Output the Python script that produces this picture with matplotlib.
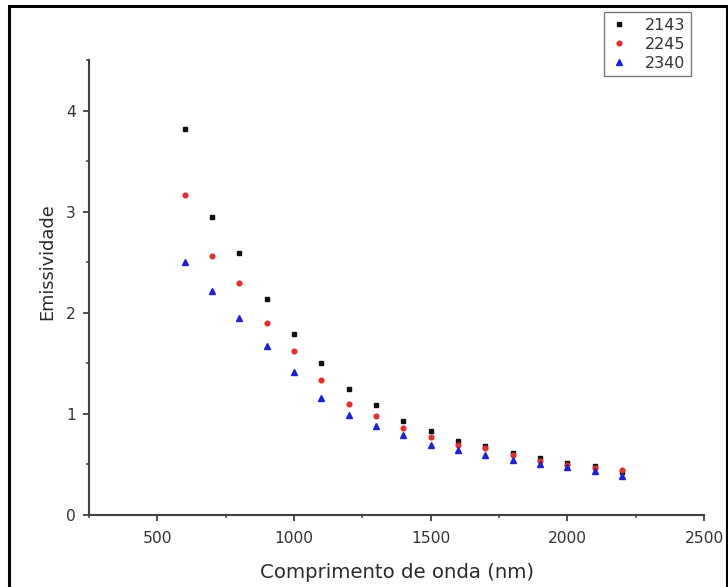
import matplotlib
matplotlib.use("Agg")
import matplotlib.pyplot as plt
from matplotlib.patches import Rectangle
from matplotlib.ticker import MultipleLocator

wavelength = [600, 700, 800, 900, 1000, 1100, 1200, 1300, 1400, 1500, 1600, 1700, 1800, 1900, 2000, 2100, 2200]
s2143 = [3.82, 2.95, 2.59, 2.14, 1.79, 1.50, 1.25, 1.09, 0.93, 0.83, 0.73, 0.68, 0.61, 0.56, 0.51, 0.48, 0.43]
s2245 = [3.16, 2.56, 2.29, 1.90, 1.62, 1.34, 1.10, 0.98, 0.86, 0.77, 0.69, 0.66, 0.59, 0.53, 0.49, 0.46, 0.45]
s2340 = [2.50, 2.22, 1.95, 1.67, 1.41, 1.16, 0.99, 0.88, 0.79, 0.69, 0.64, 0.59, 0.54, 0.50, 0.47, 0.44, 0.39]
labels = ["2143", "2245", "2340"]
x_ticks = [500, 1000, 1500, 2000, 2500]
y_ticks = [0, 1, 2, 3, 4]

plt.rcParams['font.family'] = ['DejaVu Sans']

W, H = 728, 587
fig = plt.figure(figsize=(W/100, H/100), dpi=100)
ax = fig.add_axes([89/W, 1-515/H, (704-89)/W, (515-60)/H])

ax.plot(wavelength, s2143, linestyle='none', marker='s', ms=3.2, color='#111111', label=labels[0])
ax.plot(wavelength, s2245, linestyle='none', marker='o', ms=3.4, color='#e03030', label=labels[1])
ax.plot(wavelength, s2340, linestyle='none', marker='^', ms=3.8, color='#2020d0', label=labels[2])

ax.set_xlim(250, 2500)
ax.set_ylim(0, 4.5)
ax.set_xticks(x_ticks)
ax.set_yticks(y_ticks)
ax.xaxis.set_minor_locator(MultipleLocator(250))
ax.yaxis.set_minor_locator(MultipleLocator(0.5))

for s in ['top', 'right']:
    ax.spines[s].set_visible(False)
for s in ['left', 'bottom']:
    ax.spines[s].set_linewidth(1.5)
    ax.spines[s].set_color('#404040')

ax.tick_params(which='major', direction='out', length=4.5, width=1.3, color='#404040',
               labelsize=11.2, labelcolor='#333333')
ax.tick_params(axis='x', which='major', pad=7)
ax.tick_params(axis='y', which='major', pad=5)
ax.tick_params(which='minor', direction='out', length=2.5, width=1.1, color='#404040')

ax.set_xlabel("Comprimento de onda (nm)", fontsize=14.2, color='#2a2a2a')
ax.xaxis.label.set_va('baseline')
ax.xaxis.set_label_coords((397-89)/615, (515-578)/455)
ax.set_ylabel("Emissividade", fontsize=12.8, color='#2a2a2a')
ax.yaxis.set_label_coords((56-89)/615, (515-262)/455)

leg = fig.legend(loc='upper right', bbox_to_anchor=(691/W, 1-12/H), fontsize=11.5,
                 frameon=True, fancybox=False, edgecolor='#555555', handlelength=1.2,
                 handletextpad=1.0, borderpad=0.35, labelspacing=0.25, markerscale=1.0,
                 borderaxespad=0)
leg.get_frame().set_linewidth(1.0)
for t in leg.get_texts():
    t.set_color('#333333')

frame = Rectangle((8.5/W, -0.05), (727-8.5)/W, (H-5.5)/H + 0.05, transform=fig.transFigure,
                  fill=False, edgecolor='black', linewidth=2.2)
fig.patches.append(frame)

fig.savefig("out.png", dpi=100)
